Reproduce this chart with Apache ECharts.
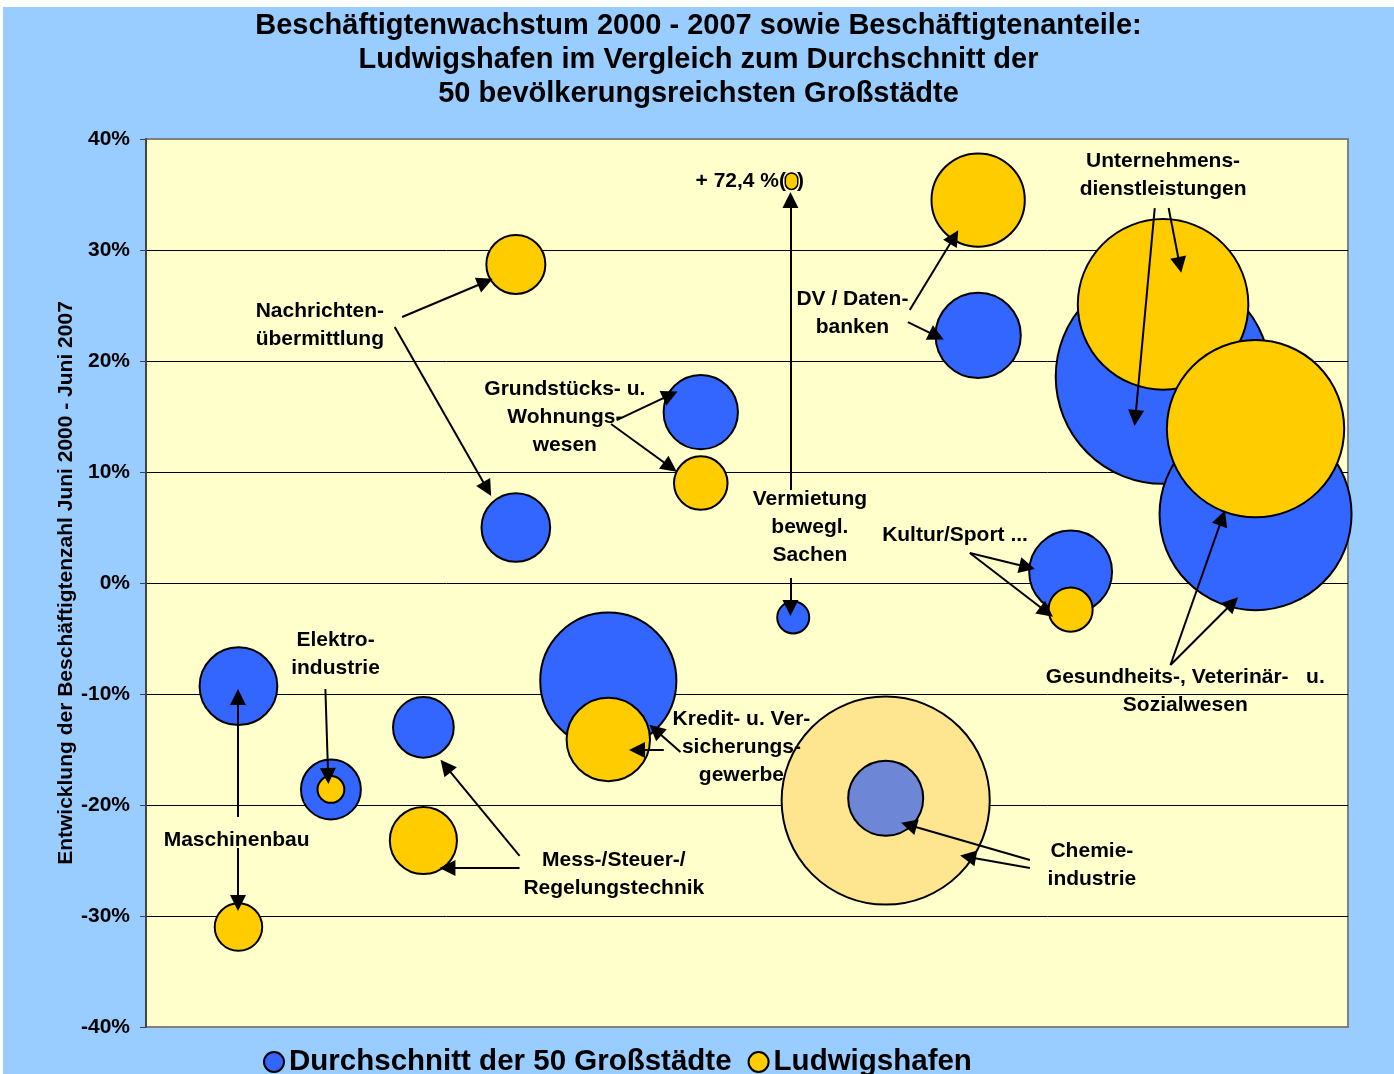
<!DOCTYPE html>
<html>
<head>
    <meta charset="utf-8" />
    <title>Beschäftigtenwachstum Ludwigshafen</title>
    <script src="https://cdn.jsdelivr.net/npm/echarts@6/dist/echarts.min.js"></script>
    <style>
        html, body { margin: 0; padding: 0; background: #ffffff; }
        #main { position: absolute; left: 3px; top: 7px; width: 1391px; height: 1067px; background: #99CCFF; }
    </style>
</head>
<body>
    <div id="main"></div>
    <script type="text/javascript">
        // Branchen (x = Position 1..12)
        var branchen = ['Maschinenbau', 'Elektroindustrie', 'Mess-/Steuer-/Regelungstechnik', 'Nachrichtenübermittlung',
            'Kredit- u. Versicherungsgewerbe', 'Grundstücks- u. Wohnungswesen', 'Vermietung bewegl. Sachen',
            'Chemieindustrie', 'DV / Datenbanken', 'Kultur/Sport ...', 'Unternehmensdienstleistungen',
            'Gesundheits-, Veterinär- u. Sozialwesen'];
        // Wachstum 2000-2007 in %
        var wachstumGross = [-9.3, -18.6, -13.0, 5.0, -8.8, 15.4, -3.1, -19.4, 22.3, 1.0, 18.6, 6.2];
        var wachstumLu    = [-31.0, -18.6, -23.2, 28.7, -14.1, 9.0, 72.4, -19.6, 34.5, -2.4, 25.1, 13.9];
        // Beschäftigtenanteile (Blasengröße)
        var anteilGross = [5.9, 3.5, 3.6, 4.6, 18.1, 5.4, 1.0, 5.5, 7.1, 6.7, 45.0, 36.0];
        var anteilLu    = [2.2, 0.7, 4.4, 3.4, 6.8, 2.8, 0.2, 42.3, 8.5, 1.9, 28.4, 30.7];
        var chemieIdx = 7;

        var yTicks = [-40, -30, -20, -10, 0, 10, 20, 30, 40];

        // Beschriftungen [x, y, text]
        var labels = [
            [1.88, 23.2, 'Nachrichten-\nübermittlung'],
            [4.53, 14.95, 'Grundstücks- u.\nWohnungs-\nwesen'],
            [6.53, 36.2, '+ 72,4 %({d|})'],
            [7.18, 5.05, 'Vermietung\nbewegl.\nSachen'],
            [7.64, 24.3, 'DV / Daten-\nbanken'],
            [11.0, 36.7, 'Unternehmens-\ndienstleistungen'],
            [8.75, 4.3, 'Kultur/Sport ...'],
            [11.24, -9.73, 'Gesundheits-, Veterinär-   u.\nSozialwesen'],
            [2.05, -6.4, 'Elektro-\nindustrie'],
            [0.98, -23.15, 'Maschinenbau'],
            [5.06, -26.2, 'Mess-/Steuer-/\nRegelungstechnik'],
            [6.44, -14.8, 'Kredit- u. Ver-\nsicherungs-\ngewerbe'],
            [10.23, -25.4, 'Chemie-\nindustrie']
        ];
        // Pfeile [x1, y1, x2, y2]
        var pfeile = [
            [2.77, 23.96, 3.67, 27.12], [2.69, 23.06, 3.69, 8.47],
            [5.09, 14.68, 5.67, 16.94], [5.03, 14.32, 5.67, 10.45],
            [6.97, 8.38, 6.97, 34.5], [6.97, 0.45, 6.97, -2.25],
            [8.26, 24.59, 8.74, 31.17], [8.24, 23.51, 8.55, 22.25],
            [10.91, 33.78, 10.70, 14.86], [11.06, 33.78, 11.18, 28.65],
            [8.91, 2.70, 9.53, 1.44], [8.91, 2.70, 9.74, -2.61],
            [11.08, -7.39, 11.64, 5.86], [11.08, -7.39, 11.75, -1.80],
            [1.94, -9.55, 1.97, -17.39],
            [0.995, -21.08, 0.995, -10.27], [0.995, -23.87, 0.995, -28.83],
            [4.04, -24.59, 3.24, -16.49], [4.04, -25.68, 3.26, -25.68],
            [5.78, -15.23, 5.51, -13.24], [5.60, -15.05, 5.31, -15.05],
            [9.56, -24.95, 8.25, -21.80], [9.56, -25.68, 8.89, -24.68]
        ];

        var BLUE = '#3366FF', YELLOW = '#FFCC00';
        var FONT = 'Liberation Sans, Arial, sans-serif';

        function sizeOf(v) { return 32 * Math.sqrt(v[2]); }

        var blueData = [], yellowData = [], yellowBack = [], labelData = [], arrowData = [];
        for (var i = 0; i < branchen.length; i++) {
            var b = { name: branchen[i], value: [i + 1, wachstumGross[i], anteilGross[i]] };
            var y = { name: branchen[i], value: [i + 1, wachstumLu[i], anteilLu[i]] };
            if (i === chemieIdx) {
                // gerasterte Füllung in der Vorlage -> Mischfarbe
                b.itemStyle = { color: '#6D86D6' };
                y.itemStyle = { color: '#FEE690' };
                yellowBack.push(y);
            } else {
                yellowData.push(y);
            }
            blueData.push(b);
        }
        labels.forEach(function (l) { labelData.push({ name: l[2], value: [l[0], l[1]] }); });
        pfeile.forEach(function (p) { arrowData.push([{ coord: [p[0], p[1]] }, { coord: [p[2], p[3]] }]); });

        var myChart = echarts.init(document.getElementById('main'));
        myChart.setOption({
            animation: false,
            textStyle: { fontFamily: FONT },
            title: {
                text: 'Beschäftigtenwachstum 2000 - 2007 sowie Beschäftigtenanteile:\nLudwigshafen im Vergleich zum Durchschnitt der\n50 bevölkerungsreichsten Großstädte',
                left: 'center', top: 2, padding: 0,
                textStyle: { fontSize: 29, fontWeight: 'bold', color: '#000', lineHeight: 34, fontFamily: FONT }
            },
            legend: {
                data: ['Durchschnitt der 50 Großstädte', 'Ludwigshafen'],
                left: 255, top: 1035,
                icon: 'circle', itemWidth: 20, itemHeight: 20, itemGap: 16,
                itemStyle: { borderColor: '#000', borderWidth: 2 },
                textStyle: { fontSize: 29.5, fontWeight: 'bold', color: '#000', fontFamily: FONT }
            },
            grid: {
                left: 143, top: 132, width: 1202, height: 888,
                show: true, backgroundColor: '#FFFFCC', borderColor: '#808080', borderWidth: 2
            },
            xAxis: { type: 'value', min: 0, max: 13, show: false },
            yAxis: {
                type: 'value', min: -40, max: 40, interval: 10,
                name: 'Entwicklung der Beschäftigtenzahl Juni 2000 - Juni 2007',
                nameLocation: 'middle', nameGap: 69, nameMoveOverlap: false,
                nameTextStyle: { fontSize: 21, fontWeight: 'bold', color: '#000', fontFamily: FONT },
                axisLine: { show: true, lineStyle: { color: '#444', width: 2 } },
                axisTick: { show: true, length: 6, lineStyle: { color: '#444', width: 1 } },
                axisLabel: {
                    margin: 16, fontSize: 21, fontWeight: 'bold', color: '#000', fontFamily: FONT,
                    formatter: function (v) { return yTicks.indexOf(v) >= 0 ? v + '%' : ''; }
                },
                splitLine: { show: true, showMinLine: false, showMaxLine: false, lineStyle: { color: '#000', width: 1 } }
            },
            series: [
                {
                    name: 'Ludwigshafen', type: 'scatter', z: 2,
                    symbolSize: sizeOf, data: yellowBack,
                    itemStyle: { color: YELLOW, borderColor: '#000', borderWidth: 2, opacity: 1 },
                    emphasis: { disabled: true }
                },
                {
                    name: 'Durchschnitt der 50 Großstädte', type: 'scatter', z: 3,
                    symbolSize: sizeOf, data: blueData,
                    itemStyle: { color: BLUE, borderColor: '#000', borderWidth: 2, opacity: 1 },
                    emphasis: { disabled: true }
                },
                {
                    name: 'Ludwigshafen', type: 'scatter', z: 4,
                    symbolSize: sizeOf, data: yellowData,
                    itemStyle: { color: YELLOW, borderColor: '#000', borderWidth: 2, opacity: 1 },
                    emphasis: { disabled: true }
                },
                {
                    name: 'Beschriftung', type: 'scatter', z: 6, silent: true,
                    symbolSize: 1, itemStyle: { color: 'transparent', borderWidth: 0 },
                    data: labelData,
                    label: {
                        show: true, position: 'inside', formatter: '{b}', opacity: 1,
                        fontSize: 21, fontWeight: 'bold', color: '#000', lineHeight: 28, align: 'center',
                        fontFamily: FONT,
                        rich: {
                            d: { width: 11, height: 15, backgroundColor: YELLOW, borderColor: '#000', borderWidth: 1.5, borderRadius: 7 }
                        }
                    },
                    markLine: {
                        silent: true, animation: false,
                        symbol: ['none', 'triangle'], symbolSize: 16,
                        label: { show: false },
                        lineStyle: { color: '#000', width: 2, type: 'solid' },
                        emphasis: { disabled: true },
                        data: arrowData
                    }
                }
            ]
        });
    </script>
</body>
</html>
